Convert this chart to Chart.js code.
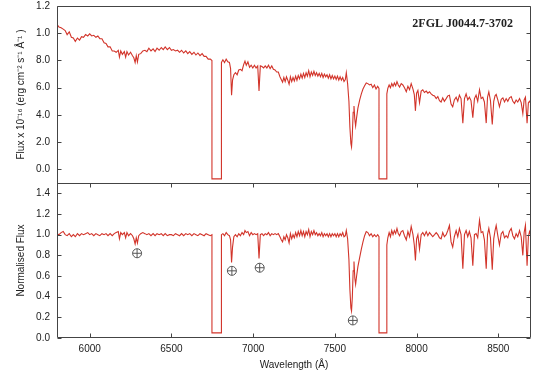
<!DOCTYPE html>
<html>
<head>
<meta charset="utf-8">
<script src="https://cdn.jsdelivr.net/npm/chart.js@4.4.0/dist/chart.umd.min.js"></script>
<style>
  body { margin: 0; background: #fff; }
  #wrap { width: 534px; height: 379px; }
</style>
</head>
<body>
<div id="wrap"><canvas id="spec" width="534" height="379"></canvas></div>
<script>
// wavelength grid (Angstrom); repeated values draw the chip-gap boxes
const wavelength = [
  5800, 5812, 5825, 5838, 5850, 5862, 5875, 5888, 5900, 5912,
  5925, 5938, 5950, 5962, 5975, 5988, 6000, 6012, 6025, 6038,
  6050, 6062, 6075, 6088, 6100, 6112, 6125, 6138, 6150, 6162,
  6175, 6182, 6190, 6200, 6212, 6220, 6228, 6238, 6250, 6262,
  6270, 6278, 6285, 6292, 6300, 6312, 6325, 6338, 6350, 6362,
  6375, 6388, 6400, 6412, 6425, 6438, 6450, 6462, 6475, 6488,
  6500, 6512, 6525, 6538, 6550, 6562, 6575, 6588, 6600, 6612,
  6625, 6638, 6650, 6662, 6675, 6688, 6700, 6712, 6725, 6738,
  6748, 6748, 6806, 6806,
  6815, 6825, 6835, 6845, 6855, 6862, 6868, 6874, 6882, 6892,
  6902, 6912, 6922, 6932, 6942, 6950, 6958, 6968, 6978, 6988,
  6998, 7008, 7018, 7028, 7036, 7044, 7054, 7064, 7074, 7084,
  7094, 7104, 7114, 7124, 7134, 7144, 7154, 7164, 7172, 7180,
  7188, 7196, 7204, 7212, 7220, 7228, 7236, 7244, 7252, 7260,
  7268, 7276, 7284, 7292, 7300, 7308, 7316, 7324, 7332, 7340,
  7348, 7356, 7364, 7372, 7380, 7388, 7396, 7404, 7412, 7420,
  7428, 7436, 7444, 7452, 7460, 7468, 7476, 7484, 7492, 7500,
  7508, 7516, 7524, 7532, 7540, 7548, 7556, 7564, 7570, 7578,
  7586, 7592, 7598, 7602, 7607, 7612, 7617, 7622, 7627, 7633,
  7641, 7652, 7662, 7672, 7682, 7692, 7702, 7712, 7722, 7732,
  7742, 7752, 7762, 7770, 7770, 7818, 7818,
  7824, 7832, 7840, 7848, 7856, 7864, 7872, 7880, 7888, 7896,
  7906, 7916, 7926, 7937, 7947, 7957, 7967, 7978, 7986, 7993,
  8000, 8008, 8018, 8028, 8038, 8048, 8059, 8069, 8079, 8089,
  8099, 8110, 8120, 8130, 8140, 8150, 8160, 8170, 8181, 8191,
  8201, 8211, 8221, 8231, 8242, 8252, 8262, 8272, 8283, 8293,
  8303, 8313, 8323, 8333, 8344, 8354, 8364, 8374, 8385, 8395,
  8405, 8415, 8426, 8434, 8442, 8452, 8463, 8472, 8480, 8487,
  8497, 8507, 8518, 8528, 8538, 8548, 8558, 8568, 8579, 8589,
  8599, 8609, 8619, 8630, 8640, 8650, 8658, 8666, 8676, 8684,
  8691, 8700
];

// flux x 1e-16 erg/cm2/s/A (top panel)
const flux = [
  10.65, 10.45, 10.4, 10.3, 10.2, 9.9, 10.1, 9.7, 9.65, 9.4,
  9.65, 9.5, 9.75, 9.7, 9.9, 9.8, 9.95, 9.8, 9.85, 9.7,
  9.8, 9.6, 9.6, 9.3, 9.25, 9.0, 9.0, 8.7, 8.7, 8.6,
  8.75, 8.25, 8.7, 8.45, 8.65, 8.25, 8.65, 8.4, 8.6, 8.35,
  8.2, 7.85, 8.35, 7.9, 8.45, 8.5, 8.7, 8.75, 8.65, 8.9,
  8.7, 8.85, 8.65, 8.9, 8.75, 8.95, 8.8, 9.0, 8.8, 8.95,
  8.75, 8.8, 8.7, 8.75, 8.6, 8.75, 8.55, 8.7, 8.5, 8.65,
  8.45, 8.6, 8.4, 8.55, 8.35, 8.5, 8.3, 8.3, 8.1, 8.1,
  8.0, -0.7, -0.7, 7.85,
  8.05, 7.85, 8.1, 7.9, 7.85, 7.4, 5.45, 6.55, 6.95, 7.1,
  6.95, 7.3, 7.35, 7.25, 7.7, 7.95, 7.65, 7.9, 7.5, 7.65,
  7.45, 7.65, 7.45, 7.6, 5.75, 7.6, 7.55, 7.45, 7.6, 7.45,
  7.65, 7.4, 7.6, 7.35, 7.3, 7.15, 7.15, 6.8, 6.6, 6.4,
  6.75, 6.45, 6.8, 6.55, 6.25, 6.8, 6.45, 6.75, 6.5, 6.85,
  6.55, 6.9, 6.65, 7.0, 6.7, 7.05, 6.75, 7.1, 6.85, 7.25,
  6.8, 7.15, 6.9, 7.2, 6.9, 7.1, 6.85, 7.05, 6.8, 7.05,
  6.75, 7.0, 6.8, 6.95, 6.7, 6.95, 6.65, 6.9, 6.65, 6.85,
  6.6, 6.85, 6.55, 6.8, 6.55, 6.75, 6.45, 6.6, 7.1, 6.3,
  5.0, 3.1, 1.9, 1.65, 2.6, 4.2, 4.65, 3.7, 3.2, 3.8,
  4.5, 5.1, 5.55, 5.9, 6.15, 6.35, 6.3, 6.2, 6.25, 6.0,
  6.2, 5.9, 6.1, 5.95, -0.7, -0.7, 5.55,
  5.95, 6.2, 6.0, 6.3, 6.1, 6.35, 6.15, 6.45, 6.2, 6.05,
  6.3, 6.2, 6.0, 5.7, 6.1, 5.85, 6.3, 5.9, 5.5, 4.3,
  5.6, 5.8, 4.9, 5.75, 5.85, 5.65, 5.75, 5.6, 5.7, 5.55,
  5.45, 5.4, 5.2, 5.35, 5.05, 4.95, 5.25, 5.0, 5.2, 5.4,
  5.45, 4.8, 4.6, 5.1, 5.3, 5.0, 5.45, 5.2, 3.4, 5.2,
  5.55, 5.1, 5.3, 5.05, 3.8, 5.2, 5.45, 5.0, 5.85, 5.2,
  5.3, 4.95, 3.4, 5.3, 5.7, 5.05, 3.3, 5.0, 5.4, 5.5,
  5.1, 4.6, 5.15, 5.25, 4.95, 5.2, 5.0, 5.25, 5.35, 5.0,
  4.85, 5.1, 4.95, 5.2, 4.9, 4.1, 5.1, 5.3, 3.4, 4.9,
  5.0, 4.8
];

// normalised flux (bottom panel)
const normFlux = [
  1.01, 1.00, 1.02, 1.03, 1.00, 0.99, 1.01, 0.98, 1.00, 0.98,
  1.01, 0.99, 1.01, 1.00, 1.01, 1.02, 1.00, 1.01, 0.99, 1.01,
  1.00, 0.99, 1.01, 1.00, 1.01, 0.99, 1.01, 0.99, 1.01, 1.02,
  1.03, 0.96, 1.02, 1.00, 1.02, 0.97, 1.02, 0.99, 1.01, 0.99,
  0.96, 0.91, 0.97, 0.92, 0.99, 1.01, 1.02, 1.01, 1.00, 1.01,
  0.99, 1.01, 0.99, 1.01, 1.00, 1.01, 0.99, 1.01, 0.99, 1.00,
  1.00, 0.99, 1.01, 1.00, 0.99, 1.01, 0.99, 1.01, 1.00, 1.01,
  0.99, 1.01, 1.00, 0.99, 1.01, 1.00, 0.99, 1.01, 1.00, 0.99,
  1.00, 0.05, 0.05, 1.00,
  1.01, 0.99, 1.02, 1.00, 0.99, 0.95, 0.73, 0.88, 0.98, 1.00,
  0.98, 1.01, 0.99, 1.02, 1.00, 1.04, 1.02, 1.03, 0.99, 1.02,
  1.00, 1.01, 1.00, 1.01, 0.77, 1.00, 1.01, 0.99, 1.01, 1.00,
  1.02, 0.99, 1.01, 1.00, 1.01, 1.00, 1.01, 0.98, 0.95, 0.93,
  0.98, 0.95, 1.00, 0.97, 0.92, 1.01, 0.96, 1.00, 0.97, 1.02,
  0.98, 1.03, 0.99, 1.04, 0.99, 1.03, 0.98, 1.03, 1.00, 1.05,
  0.98, 1.03, 1.00, 1.04, 1.00, 1.02, 0.99, 1.01, 0.99, 1.02,
  0.98, 1.01, 0.99, 1.01, 0.98, 1.01, 0.98, 1.01, 0.99, 1.01,
  0.98, 1.01, 0.98, 1.01, 0.99, 1.02, 0.98, 0.99, 1.04, 0.96,
  0.76, 0.47, 0.29, 0.26, 0.40, 0.65, 0.74, 0.58, 0.52, 0.60,
  0.69, 0.78, 0.86, 0.93, 0.99, 1.03, 1.02, 0.99, 1.01, 0.98,
  1.00, 0.98, 1.00, 0.98, 0.05, 0.05, 0.90,
  0.97, 1.02, 0.98, 1.04, 1.00, 1.04, 1.01, 1.06, 1.01, 0.99,
  1.03, 1.04, 0.99, 0.95, 1.03, 0.98, 1.08, 1.00, 0.90, 0.75,
  0.96, 1.00, 0.86, 1.00, 1.02, 0.99, 1.03, 0.99, 1.02, 1.00,
  0.98, 1.00, 1.02, 1.00, 0.97, 0.96, 1.02, 0.98, 1.00, 1.04,
  1.09, 0.93, 0.88, 0.98, 1.04, 0.98, 1.06, 1.00, 0.67, 1.00,
  1.04, 0.98, 1.03, 0.97, 0.70, 1.00, 1.01, 0.97, 1.14, 1.02,
  1.03, 0.95, 0.67, 1.00, 1.06, 0.97, 0.66, 0.96, 1.04, 1.09,
  0.99, 0.90, 1.01, 1.03, 0.97, 0.99, 0.97, 1.03, 1.06, 0.99,
  0.96, 1.01, 0.98, 1.04, 0.98, 0.80, 1.02, 1.09, 0.70, 0.98,
  1.03, 0.99
];

// telluric markers (earth symbol) in the bottom panel
const telluricX = [6290, 6870, 7040, 7610];
const telluricY = [0.82, 0.65, 0.68, 0.17];

// tick values and labels
const xTicks = [6000, 6500, 7000, 7500, 8000, 8500];
const topTicks = [0, 2, 4, 6, 8, 10, 12];
const topTickLabels = ['0.0', '2.0', '4.0', '6.0', '8.0', '1.0', '1.2'];
const botTicks = [0, 0.2, 0.4, 0.6, 0.8, 1.0, 1.2, 1.4];
const botTickLabels = ['0.0', '0.2', '0.4', '0.6', '0.8', '1.0', '1.2', '1.4'];

const objectName = '2FGL J0044.7-3702';

const RED = '#d2342a';
const INK = '#444';
const tickFont = { family: 'Liberation Sans, Arial, sans-serif', size: 10 };

const topData = wavelength.map((w, i) => ({ x: w, y: flux[i] }));
const botData = wavelength.map((w, i) => ({ x: w, y: normFlux[i] }));
const tellData = telluricX.map((w, i) => ({ x: w, y: telluricY[i] }));

// stop the scales from reserving room for overhanging labels
const noPad = s => { s.paddingTop = 0; s.paddingBottom = 0; s.paddingLeft = 0; s.paddingRight = 0; };

// frame + inward tick marks + object name
const frameTicks = {
  id: 'frameTicks',
  afterDraw(chart) {
    const { ctx, chartArea: a, scales } = chart;
    const len = 4;
    const line = (x1, y1, x2, y2) => {
      ctx.beginPath(); ctx.moveTo(x1, y1); ctx.lineTo(x2, y2); ctx.stroke();
    };
    ctx.save();
    ctx.strokeStyle = INK;
    ctx.lineWidth = 1;
    const L = Math.round(a.left) + 0.5, R = Math.round(a.right) - 0.5;
    const T = Math.round(a.top) + 0.5, B = Math.round(a.bottom) - 0.5;
    const M = Math.round(scales.yBot.top) + 0.5;
    line(L, T, R, T); line(L, B, R, B); line(L, M, R, M);
    line(L, T, L, B); line(R, T, R, B);
    ['yTop', 'yBot'].forEach(id => {
      const s = scales[id];
      s.ticks.forEach(t => {
        const y = Math.round(s.getPixelForValue(t.value)) + 0.5;
        line(L, y, L + len, y);
        line(R - len, y, R, y);
      });
    });
    const sx = scales.x;
    sx.ticks.forEach(t => {
      const x = Math.round(sx.getPixelForValue(t.value)) + 0.5;
      line(x, B, x, B - len);
      line(x, M, x, M + len);
    });
    ctx.fillStyle = '#222';
    ctx.font = 'bold 12px "Liberation Serif", "DejaVu Serif", serif';
    ctx.textAlign = 'right';
    ctx.textBaseline = 'alphabetic';
    ctx.fillText(objectName, 513, 27);
    ctx.restore();
  }
};

const ctx = document.getElementById('spec').getContext('2d');
const chart = new Chart(ctx, {
  type: 'line',
  data: {
    datasets: [
      { data: topData, yAxisID: 'yTop', borderColor: RED, borderWidth: 1.1, pointRadius: 0, tension: 0 },
      { data: botData, yAxisID: 'yBot', borderColor: RED, borderWidth: 1.1, pointRadius: 0, tension: 0 },
      { data: tellData, yAxisID: 'yBot', showLine: false, pointStyle: 'circle', pointRadius: 4.5,
        borderColor: '#555', borderWidth: 1, backgroundColor: 'rgba(0,0,0,0)' },
      { data: tellData, yAxisID: 'yBot', showLine: false, pointStyle: 'cross', pointRadius: 4.5,
        borderColor: '#555', borderWidth: 1 }
    ]
  },
  options: {
    responsive: false,
    animation: false,
    devicePixelRatio: 1,
    layout: { autoPadding: false, padding: { top: 6, right: 3, left: 0, bottom: 0 } },
    plugins: { legend: { display: false }, tooltip: { enabled: false } },
    scales: {
      x: {
        type: 'linear',
        min: 5800, max: 8700,
        afterBuildTicks: s => { s.ticks = xTicks.map(v => ({ value: v })); },
        afterFit: s => { s.height = 41; noPad(s); },
        grid: { display: false, drawTicks: false },
        border: { display: false },
        ticks: { font: tickFont, color: '#222', padding: 5, maxRotation: 0, autoSkip: false,
                 callback: v => String(v) },
        title: { display: true, text: 'Wavelength (Å)', color: '#222', font: tickFont, padding: { top: 0, bottom: 8 } }
      },
      yBot: {
        type: 'linear',
        position: 'left',
        stack: 'panels',
        stackWeight: 155,
        min: 0, max: 1.5,
        afterBuildTicks: s => { s.ticks = botTicks.map(v => ({ value: v })); },
        afterFit: s => { s.width = 57; noPad(s); },
        grid: { display: false, drawTicks: false },
        border: { display: false },
        ticks: { font: tickFont, color: '#222', padding: 7, autoSkip: false,
                 callback: (v, i) => botTickLabels[i] },
        title: { display: true, text: 'Normalised Flux', color: '#222', font: tickFont, padding: { top: 15, bottom: 0 } }
      },
      yTop: {
        type: 'linear',
        position: 'left',
        stack: 'panels',
        stackWeight: 177,
        min: -1, max: 12,
        afterBuildTicks: s => { s.ticks = topTicks.map(v => ({ value: v })); },
        afterFit: s => { s.width = 57; noPad(s); },
        grid: { display: false, drawTicks: false },
        border: { display: false },
        ticks: { font: tickFont, color: '#222', padding: 7, autoSkip: false,
                 callback: (v, i) => topTickLabels[i] },
        title: { display: true, text: 'Flux x 10⁻¹⁶ (erg cm⁻² s⁻¹ Å⁻¹ )', color: '#222', font: tickFont, padding: { top: 15, bottom: 0 } }
      }
    }
  },
  plugins: [frameTicks]
});
</script>
</body>
</html>
